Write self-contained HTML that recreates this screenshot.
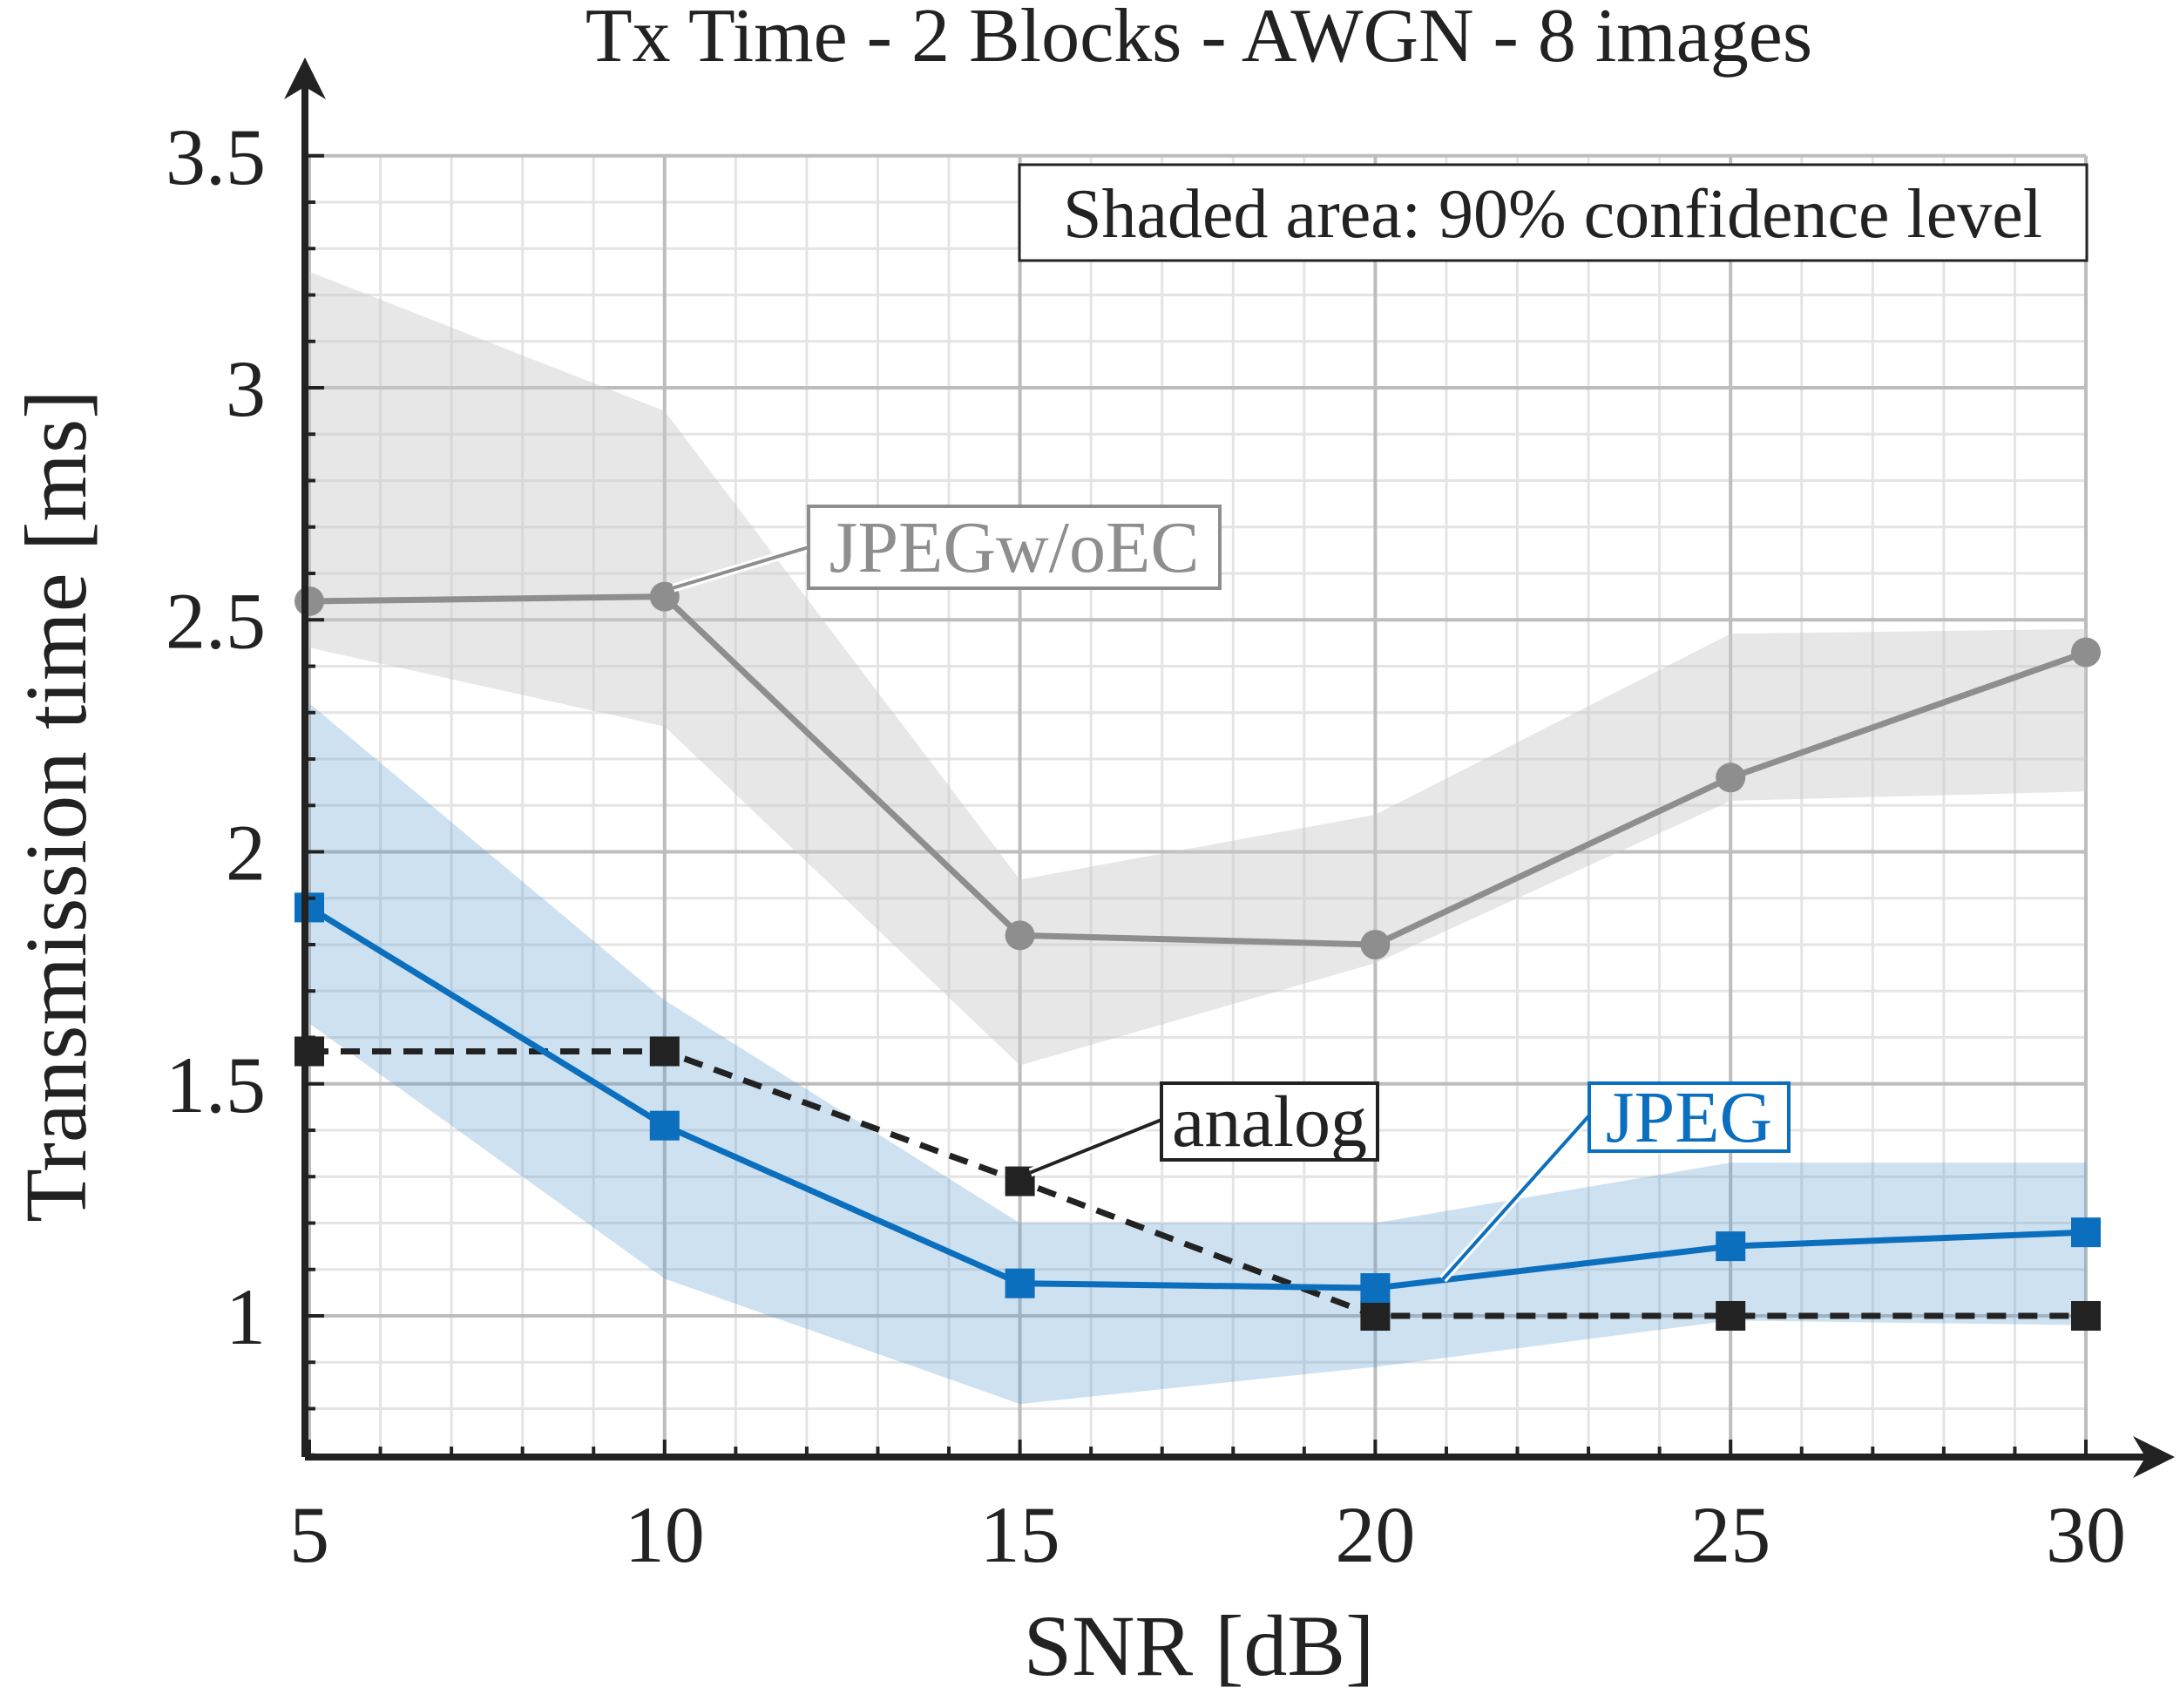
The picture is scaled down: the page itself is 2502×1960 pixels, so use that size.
<!DOCTYPE html>
<html><head><meta charset="utf-8"><style>
html,body{margin:0;padding:0;background:#fff;}
svg{display:block;font-family:"Liberation Serif",serif;}
</style></head><body>
<svg id="chart" width="2502" height="1960" viewBox="0 0 2502 1960" xmlns="http://www.w3.org/2000/svg">
<defs>
<marker id="arr" viewBox="0 0 10 10" refX="5" refY="5" markerWidth="6" markerHeight="6" orient="auto"><path d="M0,0 L10,5 L0,10 L3,5 Z" fill="#222"/></marker>
</defs>
<g id="grid"></g>
<g id="bands"></g>
<g id="series"></g>
<g id="axes"></g>
<text x="1376" y="70" font-size="88" text-anchor="middle" fill="#222">Tx Time - 2 Blocks - AWGN - 8 images</text>
<text x="1376" y="1922" font-size="100" text-anchor="middle" fill="#222">SNR [dB]</text>
<text transform="translate(98,925) rotate(-90)" font-size="101" text-anchor="middle" fill="#222">Transmission time [ms]</text>
<g>
<rect x="1170" y="189" width="1225" height="110" fill="#fff" stroke="#222" stroke-width="3"/>
<text x="1782" y="272" font-size="80" text-anchor="middle" fill="#222">Shaded area: 90% confidence level</text>
</g>
</svg>
<script>
const snr=[5,10,15,20,25,30];
const jpegNoEC=[2.54,2.55,1.82,1.80,2.16,2.43];
const jpegNoECUpper=[3.25,2.95,1.94,2.08,2.47,2.48];
const jpegNoECLower=[2.44,2.27,1.54,1.76,2.11,2.13];
const jpeg=[1.88,1.41,1.07,1.06,1.15,1.18];
const jpegUpper=[2.32,1.68,1.20,1.20,1.33,1.33];
const jpegLower=[1.63,1.08,0.81,0.89,0.99,0.98];
const analog=[1.57,1.57,1.29,1.0,1.0,1.0];
const xTicks=[5,10,15,20,25,30];
const yTicks=[1,1.5,2,2.5,3,3.5];
const yTickLabels=["1","1.5","2","2.5","3","3.5"];

const NS="http://www.w3.org/2000/svg";
const X=v=>355+(v-5)*(2394-355)/25;
const Y=v=>1510-(v-1)*532.5;
function el(tag,attrs,parent){const e=document.createElementNS(NS,tag);for(const k in attrs)e.setAttribute(k,attrs[k]);parent.appendChild(e);return e;}
const grid=document.getElementById('grid'),bands=document.getElementById('bands'),series=document.getElementById('series'),axes=document.getElementById('axes'),svg=document.getElementById('chart');
const yMin=0.7,yTop=3.5;
for(let v=5;v<=30;v++){if(v%5)el('line',{x1:X(v),x2:X(v),y1:Y(yMin),y2:Y(yTop),stroke:'#e4e4e4','stroke-width':3},grid);}
for(let i=7;i<=35;i++){const v=i/10;if(i%5)el('line',{x1:X(5),x2:X(30),y1:Y(v),y2:Y(v),stroke:'#e4e4e4','stroke-width':3},grid);}
xTicks.forEach(v=>{const l=el('line',{x1:X(v),x2:X(v),y1:Y(yMin),y2:Y(yTop),stroke:'#bdbdbd','stroke-width':4},grid);

});
yTicks.forEach(v=>{const l=el('line',{x1:X(5),x2:X(30),y1:Y(v),y2:Y(v),stroke:'#bdbdbd','stroke-width':4},grid);

});
function band(up,lo,fill,name){let pts=snr.map((s,i)=>X(s)+','+Y(up[i]));for(let i=snr.length-1;i>=0;i--)pts.push(X(snr[i])+','+Y(lo[i]));
const p=el('polygon',{points:pts.join(' '),fill:fill},bands);

}
band(jpegNoECUpper,jpegNoECLower,'rgba(200,202,200,0.45)','jpeg-woec-band');
band(jpegUpper,jpegLower,'rgba(90,155,210,0.3)','jpeg-band');
function line(vals,color,dash,name,marker){const d=snr.map((s,i)=>(i?'L':'M')+X(s)+','+Y(vals[i])).join(' ');
const p=el('path',{d:d,fill:'none',stroke:color,'stroke-width':7,'stroke-dasharray':dash||'none'},series);


snr.forEach((s,i)=>{let m;if(marker==='c')m=el('circle',{cx:X(s),cy:Y(vals[i]),r:17,fill:color},series);else m=el('rect',{x:X(s)-17,y:Y(vals[i])-17,width:34,height:34,fill:color},series);

});}
line(jpegNoEC,'#8e8e8e',null,'jpeg-woec','c');
line(analog,'#222','22,14','analog','s');
line(jpeg,'#0b6fbe',null,'jpeg','s');
el('line',{x1:350,y1:1672,x2:2472,y2:1672,stroke:'#222','stroke-width':8,'marker-end':'url(#arr)'},axes);
el('line',{x1:350,y1:1672,x2:350,y2:90,stroke:'#222','stroke-width':8,'marker-end':'url(#arr)'},axes);
for(let v=5;v<=30;v++){el('line',{x1:X(v),x2:X(v),y1:1672,y2:v%5?1660:1652,stroke:'#222','stroke-width':4},axes);}
for(let i=7;i<=35;i++){el('line',{x1:350,x2:i%5?362:372,y1:Y(i/10),y2:Y(i/10),stroke:'#222','stroke-width':4},axes);}
xTicks.forEach(v=>{const t=el('text',{x:X(v),y:1792,'font-size':92,'text-anchor':'middle',fill:'#222'},axes);t.textContent=v;

});
yTicks.forEach((v,i)=>{const t=el('text',{x:305,y:Y(v)+32,'font-size':92,'text-anchor':'end',fill:'#222'},axes);t.textContent=yTickLabels[i];

});
function note(x1,y1,x2,y2,bx,by,bw,bh,txt,color,name){
const g=el('g',{},svg);


el('line',{x1,y1,x2,y2,stroke:'#fff','stroke-width':10},g);
el('line',{x1,y1,x2,y2,stroke:color,'stroke-width':4},g);
el('rect',{x:bx,y:by,width:bw,height:bh,fill:'#fff',stroke:color,'stroke-width':4},g);
const t=el('text',{x:bx+bw/2,y:by+bh/2+28,'font-size':84,'text-anchor':'middle',fill:color},g);t.textContent=txt;}
note(X(10)+10,Y(2.55)-10,928,628,928,581,472,94,'JPEGw/oEC','#8e8e8e','jpeg-woec-label');
note(X(15)+12,Y(1.29)-10,1333,1285,1333,1243,248,88,'analog','#222','analog-label');
note(1656,1468,1824,1280,1824,1243,229,78,'JPEG','#0b6fbe','jpeg-label');
</script>
</body></html>
